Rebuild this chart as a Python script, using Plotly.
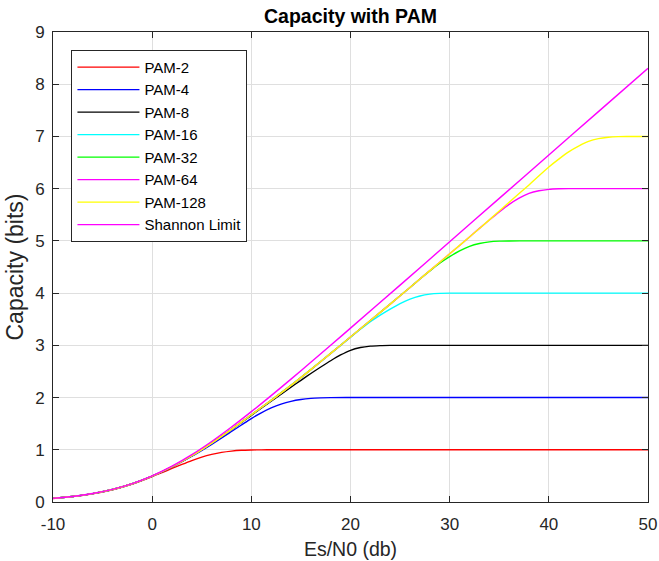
import plotly.graph_objects as go

# ---- data ----
x_pam2 = [-10, -8, -6, -4, -2, 0, 1, 2, 3, 4, 5, 6, 7, 8, 9, 10, 11, 12, 14, 20, 30, 40, 50]
c_pam2 = [0.068, 0.104, 0.158, 0.235, 0.343, 0.486, 0.563, 0.642, 0.720, 0.794, 0.859, 0.911,
          0.950, 0.975, 0.990, 0.996, 0.999, 1.0, 1.0, 1.0, 1.0, 1.0, 1.0]

x_pam4 = [-10, -8, -6, -4, -2, 0, 2, 4, 6, 8, 9, 10, 11, 12, 13, 14, 15, 16, 17, 18, 20, 30, 40, 50]
c_pam4 = [0.069, 0.106, 0.161, 0.240, 0.350, 0.494, 0.672, 0.876, 1.105, 1.350, 1.475, 1.598,
          1.708, 1.802, 1.875, 1.928, 1.963, 1.984, 1.994, 1.998, 2.0, 2.0, 2.0, 2.0]

x_pam8 = [-10, -8, -6, -4, -2, 0, 2, 4, 6, 8, 10, 12, 14, 15, 16, 17, 18, 19, 20, 21, 22, 23, 24,
          26, 30, 40, 50]
c_pam8 = [0.069, 0.106, 0.161, 0.240, 0.350, 0.495, 0.675, 0.885, 1.126, 1.385, 1.660, 1.930,
          2.200, 2.330, 2.460, 2.585, 2.705, 2.815, 2.905, 2.958, 2.985, 2.995, 2.999, 3.0, 3.0,
          3.0, 3.0]

x_pam16 = [-10, -8, -6, -4, -2, 0, 2, 4, 6, 8, 10, 12, 14, 16, 18, 20, 21, 22, 23, 24, 25, 26,
           27, 28, 29, 30, 32, 40, 50]
c_pam16 = [0.069, 0.106, 0.161, 0.240, 0.350, 0.495, 0.675, 0.886, 1.128, 1.390, 1.670, 1.947,
           2.233, 2.535, 2.845, 3.155, 3.310, 3.455, 3.580, 3.695, 3.800, 3.885, 3.945, 3.980,
           3.994, 3.999, 4.0, 4.0, 4.0]

x_pam32 = [-10, -8, -6, -4, -2, 0, 2, 4, 6, 8, 10, 12, 14, 16, 18, 20, 22, 24, 26, 27, 28, 29,
           30, 31, 32, 33, 34, 35, 36, 38, 40, 50]
c_pam32 = [0.069, 0.106, 0.161, 0.240, 0.350, 0.495, 0.675, 0.886, 1.128, 1.390, 1.670, 1.947,
           2.233, 2.535, 2.846, 3.159, 3.474, 3.789, 4.109, 4.270, 4.425, 4.575, 4.700, 4.810,
           4.895, 4.950, 4.982, 4.995, 4.999, 5.0, 5.0, 5.0]

x_pam64 = [-10, -8, -6, -4, -2, 0, 2, 4, 6, 8, 10, 12, 14, 16, 18, 20, 22, 24, 26, 28, 30, 32,
           33, 34, 35, 36, 37, 38, 39, 40, 41, 42, 44, 50]
c_pam64 = [0.069, 0.106, 0.161, 0.240, 0.350, 0.495, 0.675, 0.886, 1.128, 1.390, 1.670, 1.947,
           2.233, 2.535, 2.846, 3.159, 3.474, 3.789, 4.109, 4.431, 4.753, 5.075,
           5.240, 5.400, 5.555, 5.700, 5.820, 5.910, 5.960, 5.987, 5.997, 6.0, 6.0, 6.0]

x_pam128 = [-10, -8, -6, -4, -2, 0, 2, 4, 6, 8, 10, 12, 14, 16, 18, 20, 22, 24, 26, 28, 30, 32,
            34, 36, 38, 40, 41, 42, 43, 44, 45, 46, 47, 48, 50]
c_pam128 = [0.069, 0.106, 0.161, 0.240, 0.350, 0.495, 0.675, 0.886, 1.128, 1.390, 1.670, 1.947,
            2.233, 2.535, 2.846, 3.159, 3.474, 3.789, 4.109, 4.431, 4.753, 5.075, 5.402, 5.740,
            6.072, 6.414, 6.565, 6.705, 6.815, 6.905, 6.958, 6.985, 6.996, 6.999, 7.0]

x_shannon = [-10, -8, -6, -4, -2, 0, 2, 4, 6, 8, 10, 12, 14, 16, 18, 20, 25, 30, 35, 40, 45, 50]
c_shannon = [0.069, 0.106, 0.162, 0.242, 0.353, 0.500, 0.685, 0.906, 1.158, 1.435, 1.730, 2.037,
             2.353, 2.675, 3.001, 3.329, 4.153, 4.983, 5.814, 6.644, 7.475, 8.305]

names = ["PAM-2", "PAM-4", "PAM-8", "PAM-16", "PAM-32", "PAM-64", "PAM-128", "Shannon Limit"]
colors = ["#ff0000", "#0000ff", "#000000", "#00ffff", "#00ff00", "#ff00ff", "#ffff00", "#ff00ff"]
xs_all = [x_pam2, x_pam4, x_pam8, x_pam16, x_pam32, x_pam64, x_pam128, x_shannon]
ys_all = [c_pam2, c_pam4, c_pam8, c_pam16, c_pam32, c_pam64, c_pam128, c_shannon]

x_ticks = [-10, 0, 10, 20, 30, 40, 50]
x_tick_text = ["-10", "0", "10", "20", "30", "40", "50"]
y_ticks = [0, 1, 2, 3, 4, 5, 6, 7, 8, 9]

FONT = "Liberation Sans, Arial, Helvetica, sans-serif"
AX = "#262626"
GRID = "#dfdfdf"

fig = go.Figure()
for name, xs, ys, col in zip(names, xs_all, ys_all, colors):
    fig.add_trace(go.Scatter(
        x=xs, y=ys, mode="lines", name=name,
        line=dict(color=col, width=1.4, shape="spline", smoothing=0.8),
    ))

fig.update_layout(
    width=659, height=561,
    margin=dict(l=52.5, r=10.7, t=32, b=58.5),
    paper_bgcolor="white", plot_bgcolor="white",
    font=dict(family=FONT, color=AX),
    title=dict(text="<b>Capacity with PAM</b>", x=0.5, xref="paper", xanchor="center",
               y=1 - 16.5 / 561, yref="container", yanchor="middle",
               font=dict(size=19.5, color="#000000", family=FONT)),
    legend=dict(x=0.031, y=0.962, xanchor="left", yanchor="top",
                bgcolor="white", bordercolor=AX, borderwidth=1,
                font=dict(size=15, color="#000000", family=FONT),
                itemwidth=62, tracegroupgap=0),
    showlegend=True,
)

fig.update_xaxes(
    range=[-10, 50], tickmode="array", tickvals=x_ticks, ticktext=x_tick_text,
    showgrid=True, gridcolor=GRID, gridwidth=1, zeroline=False,
    showline=True, linecolor=AX, linewidth=1, mirror="ticks",
    ticks="inside", ticklen=6, tickcolor=AX, tickwidth=1,
    tickfont=dict(size=17, color=AX, family=FONT), ticklabelstandoff=7,
    title=dict(text="Es/N0 (db)", font=dict(size=19.5, color=AX, family=FONT), standoff=8),
    automargin=False,
)
fig.update_yaxes(
    range=[0, 9], tickmode="array", tickvals=y_ticks,
    showgrid=True, gridcolor=GRID, gridwidth=1, zeroline=False,
    showline=True, linecolor=AX, linewidth=1, mirror="ticks",
    ticks="inside", ticklen=6, tickcolor=AX, tickwidth=1,
    tickfont=dict(size=17, color=AX, family=FONT), ticklabelstandoff=4,
    title=dict(text="Capacity (bits)", font=dict(size=23, color=AX, family=FONT), standoff=5),
    automargin=False,
)

fig.write_html("out.html")
